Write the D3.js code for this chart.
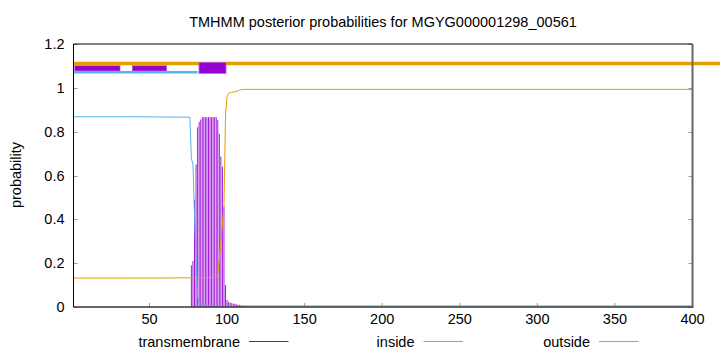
<!DOCTYPE html>
<html><head><meta charset="utf-8">
<script src="https://cdn.jsdelivr.net/npm/d3@7"></script>
<style>body{margin:0;background:#fff}svg{display:block}text{font-family:"Liberation Sans",Arial,sans-serif;font-size:14.5px;fill:#000}</style>
</head><body><svg id="c" width="720" height="352"></svg>
<script>
const title = "TMHMM posterior probabilities for MGYG000001298_00561";
const xTicks = [50,100,150,200,250,300,350,400];
const yTicks = [0,0.2,0.4,0.6,0.8,1,1.2];
const yTickLabels = ["0","0.2","0.4","0.6","0.8","1","1.2"];
const legendNames = ["transmembrane","inside","outside"];
// transmembrane posterior (impulses), residues with non-zero value
const tmPos = [77,78,79,80,81,82,83,84,85,86,87,88,89,90,91,92,93,94,95,96,97,98,99,100,101,102,103,104,105,106,107,108,109,110,111,112];
const tmVal = [0.19,0.21,0.49,0.65,0.82,0.845,0.855,0.866,0.866,0.866,0.866,0.866,0.866,0.866,0.866,0.866,0.866,0.853,0.79,0.686,0.64,0.458,0.10,0.032,0.022,0.02,0.018,0.015,0.015,0.012,0.01,0.01,0.007,0.005,0.004,0.003];
// inside posterior (points where the curve changes)
const inPos = [1,40,76,77,78,79,80,81,82,83,84,90,400];
const inVal = [0.868,0.868,0.866,0.678,0.65,0.42,0.22,0.05,0.016,0.012,0.008,0.005,0.005];
// outside posterior
const outPos = [1,40,75,93,94,95,96,97,98,99,100,101,102,103,105,107,108,110,400];
const outVal = [0.132,0.132,0.133,0.135,0.15,0.22,0.30,0.38,0.458,0.88,0.96,0.975,0.978,0.98,0.982,0.985,0.99,0.993,0.993];
// predicted topology bars: [start, end, level]
const insideBars = [[1,81,1.071]];
const outsideBars = [[1,418,1.111]];
const tmBoxesLow = [[1.8,31,1.077,1.101],[38.9,61.1,1.077,1.101]];
const tmBoxesHigh = [[81.9,99.3,1.066,1.115]];

const cPurple="#9400d3", cBlue="#56b4e9", cOrange="#e69f00";
const svg = d3.select("#c");
const x = d3.scaleLinear().domain([1,400]).range([73.5,692.5]);
const y = d3.scaleLinear().domain([0,1.2]).range([307,44]);

// impulses
svg.append("g").selectAll("line").data(tmPos.map((p,i)=>[p,tmVal[i]])).join("line")
  .attr("x1",d=>x(d[0])).attr("x2",d=>x(d[0])).attr("y1",y(0)).attr("y2",d=>y(d[1]))
  .attr("stroke",cPurple).attr("stroke-width",0.9);

const line = d3.line().x(d=>x(d[0])).y(d=>y(d[1]));
svg.append("path").datum(inPos.map((p,i)=>[p,inVal[i]])).attr("d",line)
  .attr("fill","none").attr("stroke",cBlue).attr("stroke-width",1);
svg.append("path").datum(outPos.map((p,i)=>[p,outVal[i]])).attr("d",line)
  .attr("fill","none").attr("stroke",cOrange).attr("stroke-width",1);

// topology bars
svg.append("g").selectAll("rect").data(tmBoxesLow).join("rect")
  .attr("x",d=>x(d[0])).attr("width",d=>x(d[1])-x(d[0]))
  .attr("y",d=>y(d[3])).attr("height",d=>y(d[2])-y(d[3]))
  .attr("fill",cPurple).attr("stroke","#b45ee6").attr("stroke-width",0.6);
svg.append("g").selectAll("line").data(outsideBars).join("line")
  .attr("x1",d=>x(d[0])).attr("x2",d=>Math.min(720,x(d[1]))).attr("y1",d=>y(d[2])).attr("y2",d=>y(d[2]))
  .attr("stroke",cOrange).attr("stroke-width",3.7);
svg.append("g").selectAll("line").data(insideBars).join("line")
  .attr("x1",d=>x(d[0])).attr("x2",d=>x(d[1])).attr("y1",d=>y(d[2])).attr("y2",d=>y(d[2]))
  .attr("stroke",cBlue).attr("stroke-width",2.7);
svg.append("g").selectAll("rect").data(tmBoxesHigh).join("rect")
  .attr("x",d=>x(d[0])).attr("width",d=>x(d[1])-x(d[0]))
  .attr("y",d=>y(d[3])).attr("height",d=>y(d[2])-y(d[3]))
  .attr("fill",cPurple).attr("stroke","#b45ee6").attr("stroke-width",0.8);

// ticks
const tk = svg.append("g").attr("stroke","#999").attr("stroke-width",1);
yTicks.forEach(v=>{
  tk.append("line").attr("x1",73.5).attr("x2",77.5).attr("y1",Math.round(y(v))+0.5).attr("y2",Math.round(y(v))+0.5);
  tk.append("line").attr("x1",688.5).attr("x2",692.5).attr("y1",Math.round(y(v))+0.5).attr("y2",Math.round(y(v))+0.5);
});
xTicks.forEach(v=>{
  tk.append("line").attr("x1",x(v)).attr("x2",x(v)).attr("y1",307).attr("y2",303);
});

// border
svg.append("path").attr("d",`M${x(1)},${y(0)}V${y(1.2)}H${x(400)}`).attr("fill","none").attr("stroke","#000").attr("stroke-width",1);
svg.append("line").attr("x1",x(1)).attr("x2",x(400)+1).attr("y1",y(0)).attr("y2",y(0)).attr("stroke","#333").attr("stroke-width",1.6);
svg.append("line").attr("x1",x(400)).attr("x2",x(400)).attr("y1",y(1.2)).attr("y2",y(0)).attr("stroke","#666").attr("stroke-width",2);

// labels
svg.append("g").selectAll("text").data(xTicks).join("text")
  .attr("x",d=>x(d)).attr("y",323.5).attr("text-anchor","middle").text(d=>d);
svg.append("g").selectAll("text").data(yTicks).join("text")
  .attr("x",64.5).attr("y",d=>y(d)+5).attr("text-anchor","end").text((d,i)=>yTickLabels[i]);
svg.append("text").attr("x",383).attr("y",27).attr("text-anchor","middle").text(title);
svg.append("text").attr("transform","translate(21,175) rotate(-90)").attr("text-anchor","middle").text("probability");

const legX = [240,414.5,590];
const legC = [cPurple,cBlue,cOrange];
legendNames.forEach((n,i)=>{
  svg.append("text").attr("x",legX[i]).attr("y",346.5).attr("text-anchor","end").text(n);
  svg.append("line").attr("x1",legX[i]+9).attr("x2",legX[i]+48.5).attr("y1",341.5).attr("y2",341.5).attr("stroke",legC[i]).attr("stroke-width",1);
});
</script></body></html>
